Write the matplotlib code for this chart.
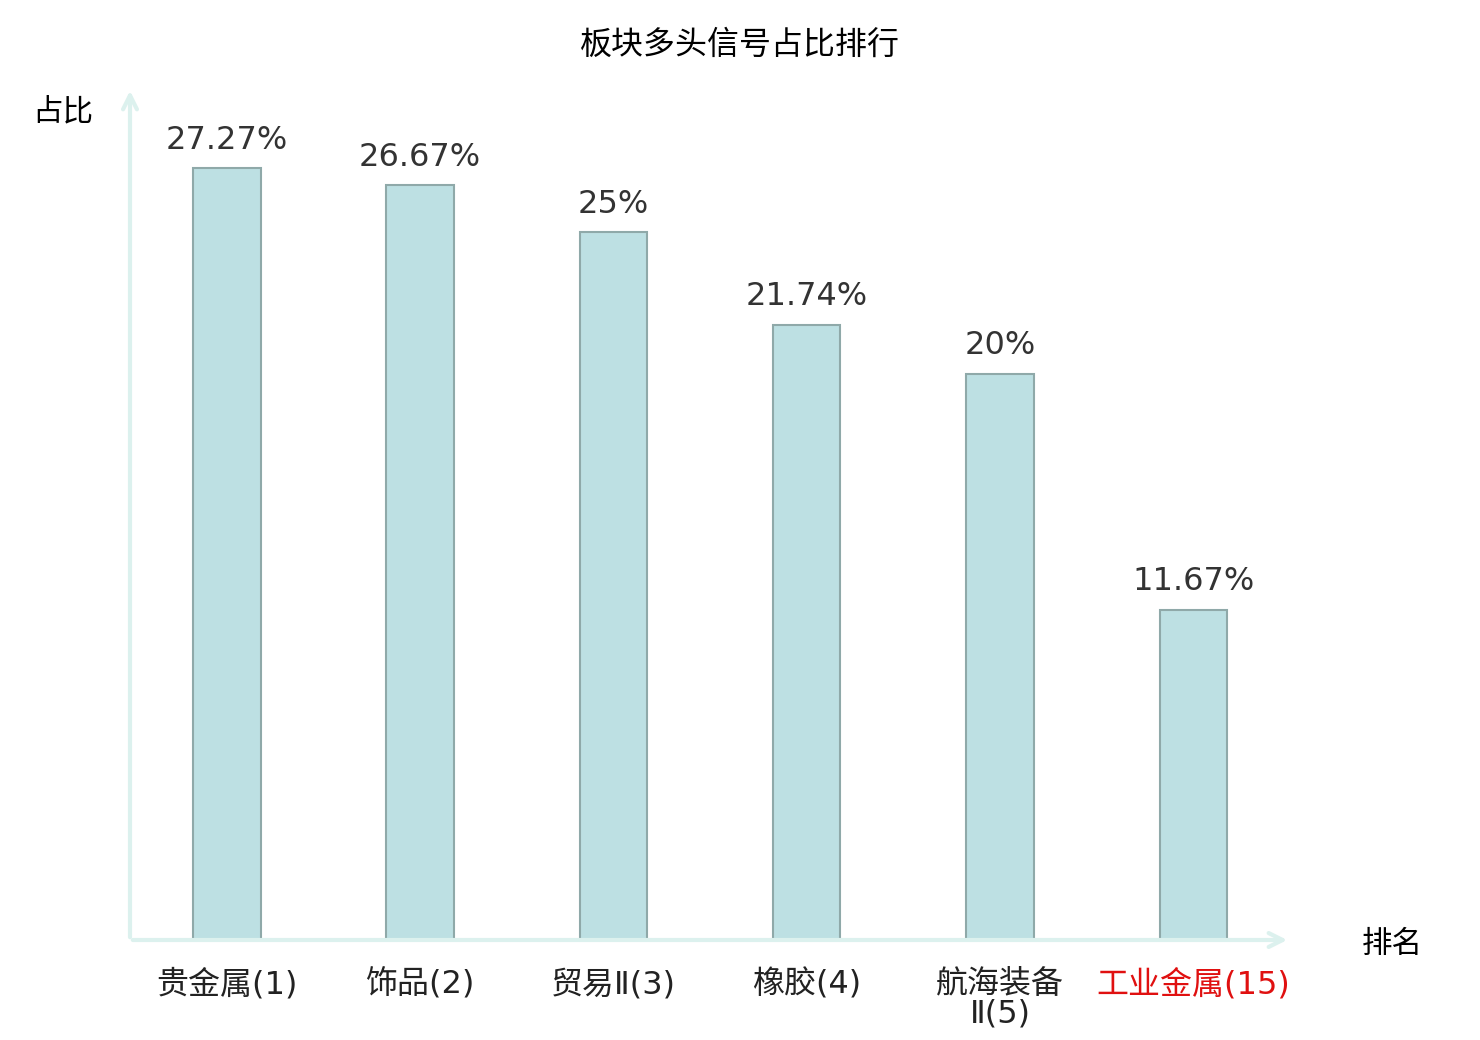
import matplotlib.pyplot as plt

plt.rcParams['font.family'] = ['Noto Sans CJK SC', 'DejaVu Sans']

categories = ["贵金属(1)", "饰品(2)", "贸易Ⅱ(3)", "橡胶(4)", "航海装备\nⅡ(5)", "工业金属(15)"]
values = [27.27, 26.67, 25.0, 21.74, 20.0, 11.67]
value_labels = ["27.27%", "26.67%", "25%", "21.74%", "20%", "11.67%"]
label_colors = ["#222222"] * 5 + ["#e01010"]

fig = plt.figure(figsize=(14.8, 10.4), dpi=100)
ax = fig.add_axes([130 / 1480, 100 / 1040, 1160 / 1480, 852 / 1040])

x = list(range(len(categories)))
ax.bar(x, values, width=0.35, color="#bde0e3", edgecolor="#8fa9a9", linewidth=1.5, zorder=2)

for xi, v, lab in zip(x, values, value_labels):
    ax.annotate(lab, (xi, v), xytext=(0, 9), textcoords="offset points",
                ha="center", va="bottom", fontsize=23, color="#333333",
                family=["DejaVu Sans"])

ax.set_xlim(-0.5, 5.5)
ax.set_ylim(0, 30.1)
for s in ax.spines.values():
    s.set_visible(False)
ax.set_yticks([])
ax.set_xticks(x)
ax.set_xticklabels(categories, fontsize=23, linespacing=0.95,
                   family=["DejaVu Sans", "Noto Sans CJK SC"])
for t, c in zip(ax.get_xticklabels(), label_colors):
    t.set_color(c)
ax.tick_params(axis="x", length=0, pad=21)

axis_col = "#dcf1ee"
ax.annotate("", xy=(1.0, 0), xytext=(0, 0), xycoords="axes fraction",
            arrowprops=dict(arrowstyle="->,head_length=1.0,head_width=0.5", color=axis_col, lw=3),
            annotation_clip=False)
ax.annotate("", xy=(0, 1.0), xytext=(0, 0), xycoords="axes fraction",
            arrowprops=dict(arrowstyle="->,head_length=1.0,head_width=0.5", color=axis_col, lw=3),
            annotation_clip=False)

fig.text(1392 / 1480, 1 - 944 / 1040, "排名", fontsize=22, ha="center", va="center")
fig.text(63 / 1480, 1 - 112 / 1040, "占比", fontsize=22, ha="center", va="center")
fig.text(0.5, 1 - 45 / 1040, "板块多头信号占比排行", fontsize=23, ha="center", va="center")

fig.savefig("out.png", dpi=100)
